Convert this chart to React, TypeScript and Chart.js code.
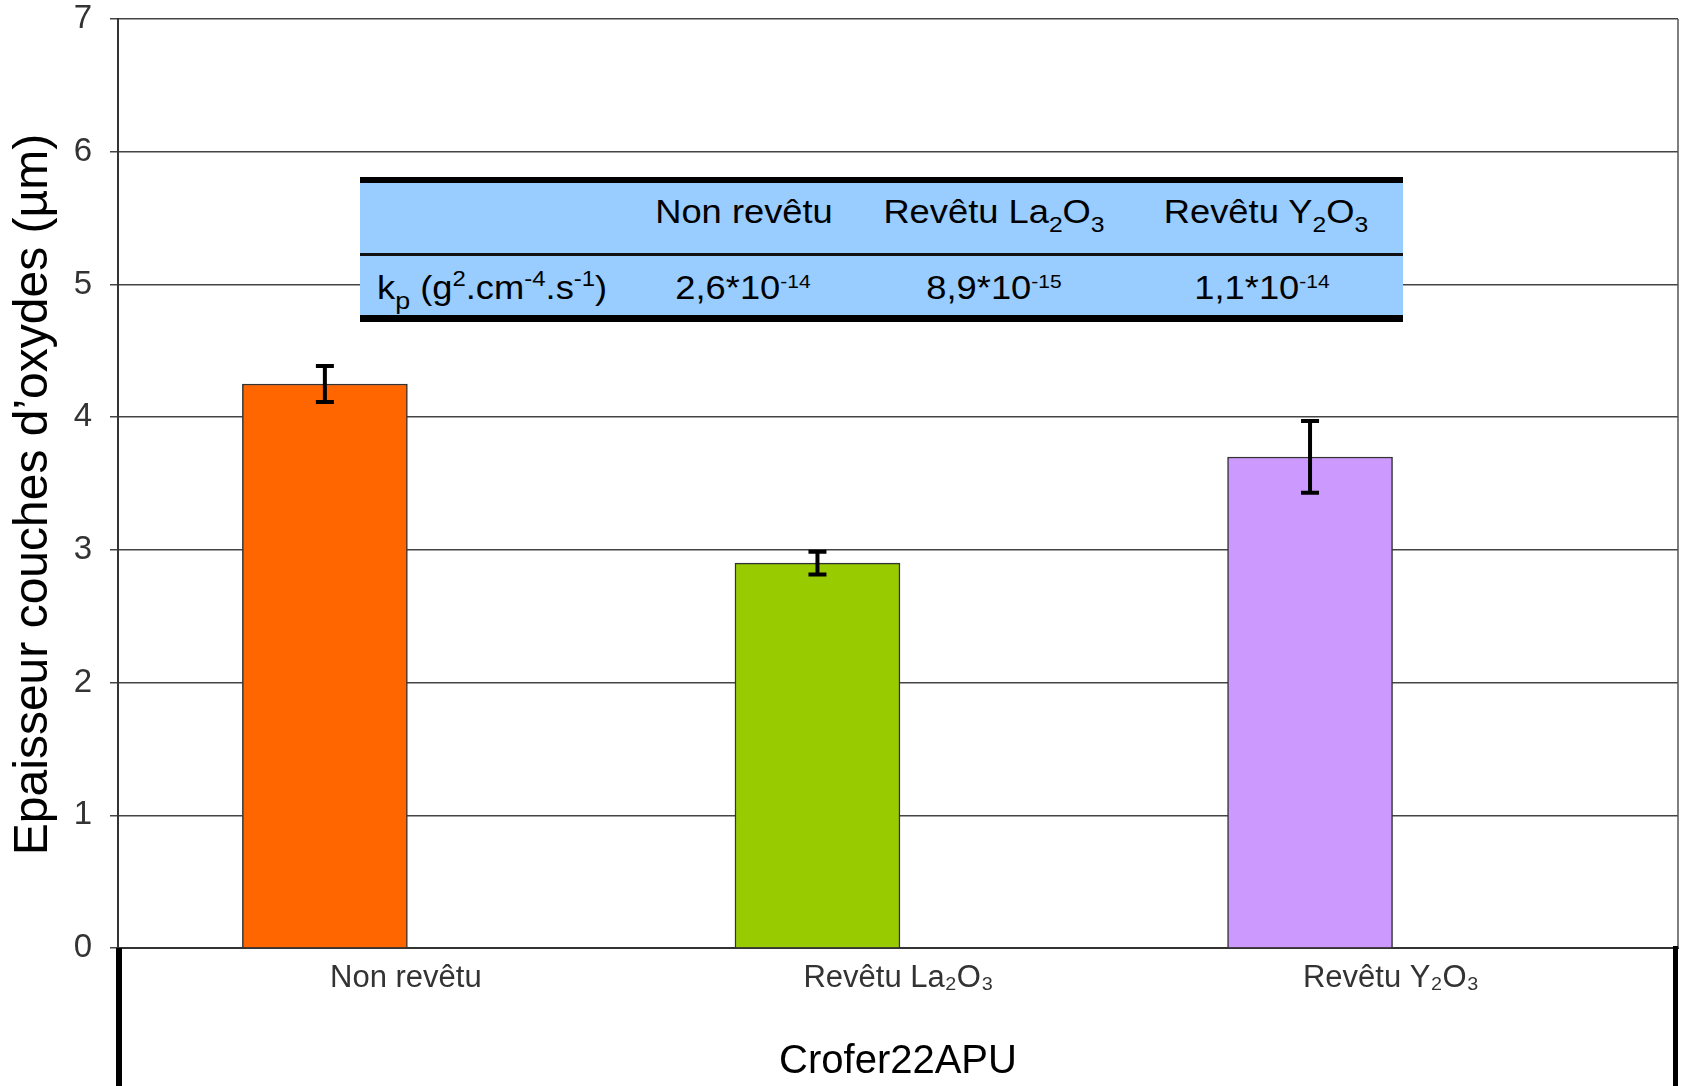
import React, { useEffect, useRef } from 'react';
import { Chart, registerables } from 'chart.js';

Chart.register(...registerables);

// ---------------- data ----------------
const categories = ['Non revêtu', 'Revêtu La_{2}O_{3}', 'Revêtu Y_{2}O_{3}'];
const thicknessValues = [4.25, 2.9, 3.7];
const errorValues = [0.135, 0.085, 0.27];
const barColors = ['#FF6600', '#99CC00', '#CC99FF'];
const yTickValues = [0, 1, 2, 3, 4, 5, 6, 7];
const yAxisTitle = 'Epaisseur couches d’oxydes (µm)';
const xAxisTitle = 'Crofer22APU';
const kpRowLabel = 'k_{p} (g^{2}.cm^{-4}.s^{-1})';
const kpValues = ['2,6*10^{-14}', '8,9*10^{-15}', '1,1*10^{-14}'];

// ---------------- helpers ----------------
const FONT = '"Liberation Sans", Arial, Helvetica, sans-serif';

type Seg = { t: string; k: 'n' | 'sub' | 'sup' };
function parseRich(s: string): Seg[] {
  const out: Seg[] = [];
  const re = /(_|\^)\{([^}]*)\}/g;
  let last = 0;
  let m: RegExpExecArray | null;
  while ((m = re.exec(s))) {
    if (m.index > last) out.push({ t: s.slice(last, m.index), k: 'n' });
    out.push({ t: m[2], k: m[1] === '_' ? 'sub' : 'sup' });
    last = re.lastIndex;
  }
  if (last < s.length) out.push({ t: s.slice(last), k: 'n' });
  return out;
}
const SUB_MAP: Record<string, string> = {
  '0': '₀', '1': '₁', '2': '₂', '3': '₃', '4': '₄', '5': '₅', '6': '₆', '7': '₇', '8': '₈', '9': '₉',
};
function toPlain(s: string): string {
  return parseRich(s)
    .map((g) => (g.k === 'sub' ? g.t.split('').map((c) => SUB_MAP[c] || c).join('') : g.t))
    .join('');
}

function Rich({ text, supSize = 0.58, subSize = 0.68 }: { text: string; supSize?: number; subSize?: number }) {
  return (
    <>
      {parseRich(text).map((g, i) => {
        if (g.k === 'n') return <span key={i}>{g.t}</span>;
        if (g.k === 'sup')
          return (
            <span key={i} style={{ fontSize: supSize + 'em', position: 'relative', top: '-0.6em', lineHeight: 0, verticalAlign: 'baseline' }}>
              {g.t}
            </span>
          );
        return (
          <span key={i} style={{ fontSize: subSize + 'em', position: 'relative', top: '0.42em', lineHeight: 0, verticalAlign: 'baseline' }}>
            {g.t}
          </span>
        );
      })}
    </>
  );
}

// ---------------- plugins ----------------
const errorBarPlugin = {
  id: 'errorBars',
  afterDatasetsDraw(chart: any) {
    const ctx = chart.ctx as CanvasRenderingContext2D;
    const meta = chart.getDatasetMeta(0);
    const ys = chart.scales.y;
    ctx.save();
    ctx.strokeStyle = '#000';
    ctx.lineCap = 'butt';
    meta.data.forEach((bar: any, i: number) => {
      const x = bar.x;
      const top = ys.getPixelForValue(thicknessValues[i] + errorValues[i]);
      const bot = ys.getPixelForValue(thicknessValues[i] - errorValues[i]);
      ctx.lineWidth = 4;
      ctx.beginPath();
      ctx.moveTo(x, top);
      ctx.lineTo(x, bot);
      ctx.stroke();
      ctx.beginPath();
      ctx.moveTo(x - 9, top);
      ctx.lineTo(x + 9, top);
      ctx.moveTo(x - 9, bot);
      ctx.lineTo(x + 9, bot);
      ctx.stroke();
    });
    ctx.restore();
  },
};

const framePlugin = {
  id: 'frame',
  afterDraw(chart: any) {
    const ctx = chart.ctx as CanvasRenderingContext2D;
    const { left, right, top, bottom } = chart.chartArea;
    const h = chart.height;
    ctx.save();
    ctx.strokeStyle = '#555';
    ctx.lineWidth = 1.5;
    ctx.beginPath();
    ctx.moveTo(right, top);
    ctx.lineTo(right, bottom);
    ctx.stroke();
    ctx.fillStyle = '#000';
    ctx.fillRect(left - 2, bottom, 6, h - bottom);
    ctx.fillRect(right - 5, bottom - 2, 5, h - bottom + 2);

    // y axis title
    ctx.translate(34, (top + bottom) / 2 + 11);
    ctx.rotate(-Math.PI / 2);
    ctx.fillStyle = '#000';
    ctx.font = `48px ${FONT}`;
    ctx.textAlign = 'center';
    ctx.textBaseline = 'middle';
    ctx.fillText(yAxisTitle, 0, 0);
    ctx.restore();
  },
};

// ---------------- table overlay ----------------
const headerCenters = [744, 994, 1266];
const valueCenters = [743, 994, 1262];

function KpTable() {
  const textBase: React.CSSProperties = {
    position: 'absolute',
    whiteSpace: 'nowrap',
    fontFamily: FONT,
    fontSize: 33,
    lineHeight: '33px',
    color: '#000',
  };
  return (
    <>
      <div
        style={{
          position: 'absolute',
          left: 360,
          top: 177,
          width: 1043,
          height: 145,
          boxSizing: 'border-box',
          background: '#99CCFF',
          borderTop: '6px solid #000',
          borderBottom: '7px solid #000',
        }}
      />
      <div style={{ position: 'absolute', left: 360, top: 253, width: 1043, height: 3, background: '#111' }} />
      {categories.map((c, i) => (
        <div
          key={'h' + i}
          style={{ ...textBase, left: headerCenters[i], top: 195, transform: 'translateX(-50%) scaleX(1.1)' }}
        >
          <Rich text={c} />
        </div>
      ))}
      <div style={{ ...textBase, left: 377, top: 271, transformOrigin: 'left center', transform: 'scaleX(1.1)' }}>
        <Rich text={kpRowLabel} supSize={0.66} subSize={0.74} />
      </div>
      {kpValues.map((v, i) => (
        <div
          key={'v' + i}
          style={{ ...textBase, left: valueCenters[i], top: 271, transform: 'translateX(-50%) scaleX(1.1)' }}
        >
          <Rich text={v} />
        </div>
      ))}
    </>
  );
}

// ---------------- app ----------------
export default function App() {
  const canvasRef = useRef<HTMLCanvasElement>(null);

  useEffect(() => {
    document.body.style.margin = '0';
    document.documentElement.style.overflow = 'hidden';
    const canvas = canvasRef.current;
    if (!canvas) return;
    const tickLabels = categories.map(toPlain);

    const chart = new Chart(canvas, {
      type: 'bar',
      data: {
        datasets: [
          {
            data: thicknessValues.map((v, i) => ({ x: i + 1, y: v })),
            backgroundColor: barColors,
            borderColor: '#333',
            borderWidth: 1.5,
            barThickness: 165,
          } as any,
        ],
      },
      options: {
        responsive: false,
        animation: false,
        devicePixelRatio: 1,
        layout: { padding: { left: 0, right: 3, top: 19, bottom: 0 } },
        plugins: {
          legend: { display: false },
          tooltip: { enabled: false },
        },
        scales: {
          x: {
            type: 'linear',
            offset: false,
            min: 0.58,
            max: 3.747,
            afterBuildTicks: (s: any) => {
              s.ticks = categories.map((_, i) => ({ value: i + 1 }));
            },
            afterFit: (s: any) => {
              s.height = 138;
            },
            grid: { display: false, drawTicks: false, tickLength: 0, offset: false },
            border: { color: '#333', width: 2 },
            ticks: {
              autoSkip: false,
              maxRotation: 0,
              labelOffset: 81,
              padding: 12,
              color: '#333',
              font: { family: FONT, size: 31 },
              callback: (_v: any, idx: number) => tickLabels[idx],
            },
            title: {
              display: true,
              text: xAxisTitle,
              color: '#000',
              font: { family: FONT, size: 40 },
              padding: { top: 0, bottom: 0 },
            },
          },
          y: {
            min: 0,
            max: 7,
            afterBuildTicks: (s: any) => {
              s.ticks = yTickValues.map((v) => ({ value: v }));
            },
            afterFit: (s: any) => {
              s.width = 118;
              s.paddingTop = 0;
              s.paddingBottom = 0;
            },
            grid: { color: '#444', lineWidth: 1.5, tickLength: 8 },
            border: { color: '#333', width: 2 },
            ticks: {
              padding: 18,
              color: '#333',
              font: { family: FONT, size: 33, lineHeight: 1 },
            },
            title: { display: false },
          },
        },
      } as any,
      plugins: [errorBarPlugin, framePlugin],
    });
    return () => chart.destroy();
  }, []);

  return (
    <div style={{ position: 'relative', width: 1681, height: 1086, overflow: 'hidden', background: '#fff' }}>
      <canvas
        ref={canvasRef}
        width={1681}
        height={1086}
        style={{ position: 'absolute', left: 0, top: 0, width: 1681, height: 1086 }}
      />
      <KpTable />
    </div>
  );
}
